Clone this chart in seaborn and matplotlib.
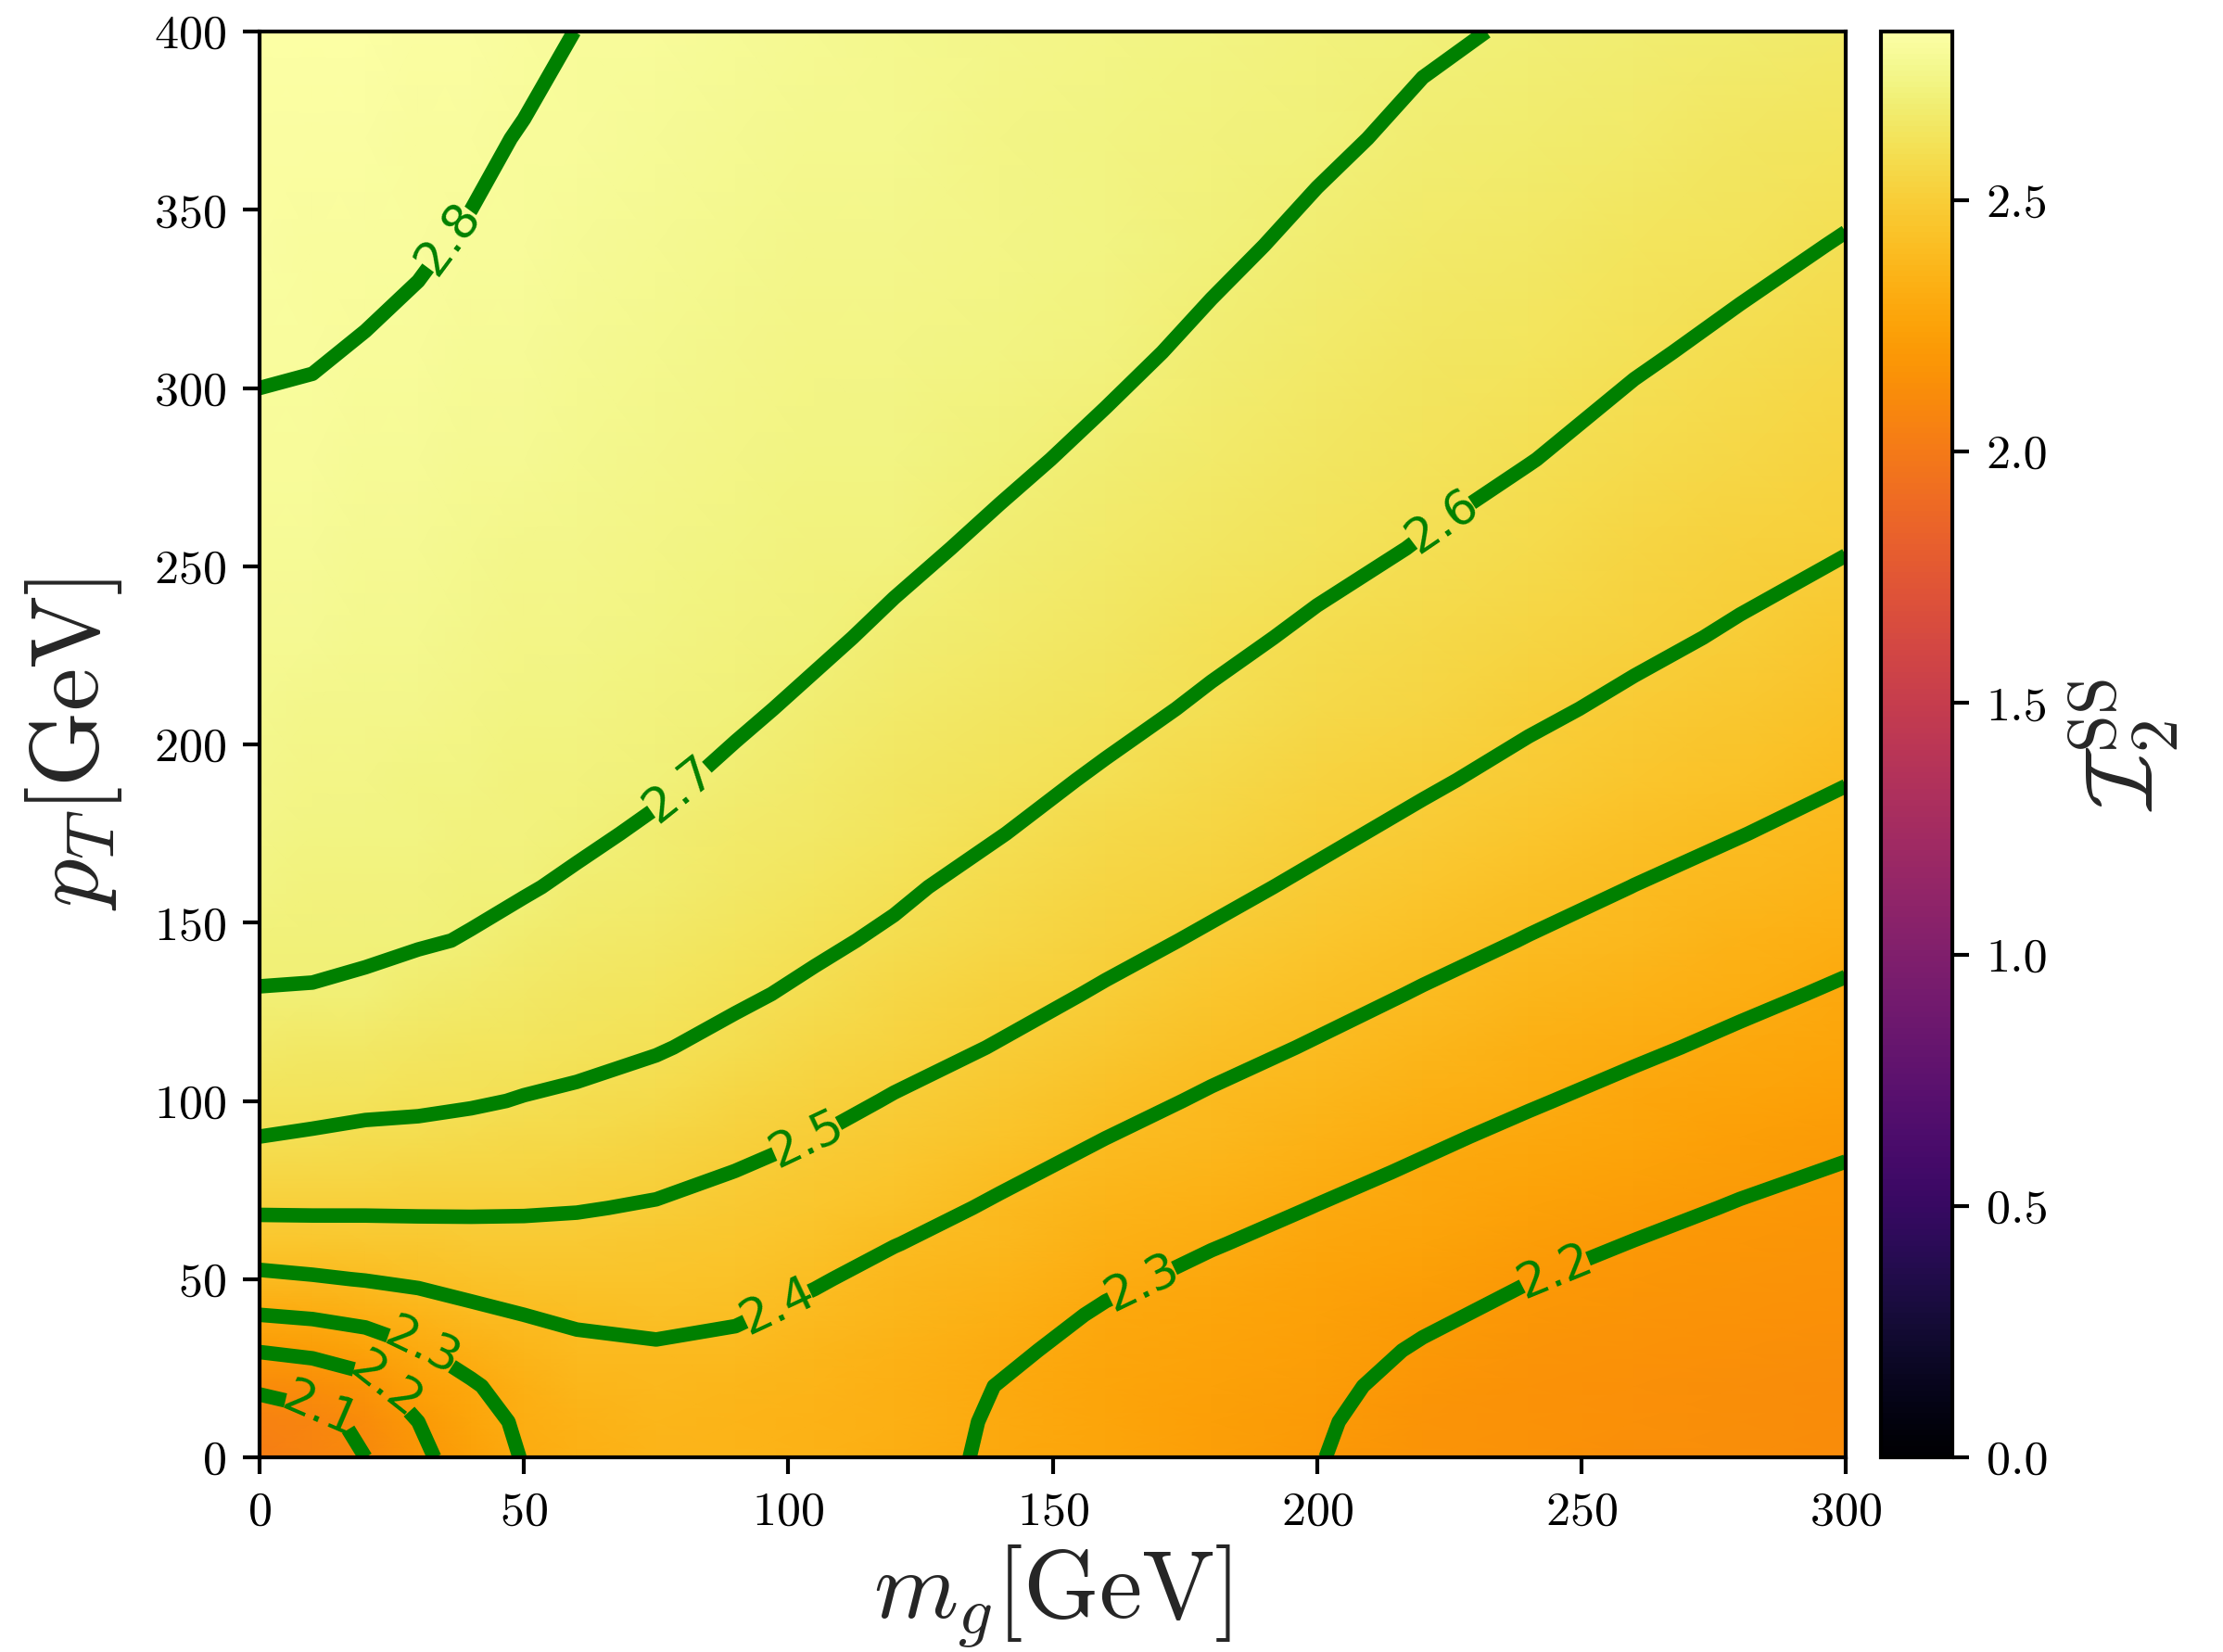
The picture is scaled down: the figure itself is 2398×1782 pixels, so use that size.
import numpy as np
import matplotlib
matplotlib.use("Agg")
import matplotlib.pyplot as plt
import seaborn as sns

# ---------------- data ----------------
MG = [0, 10, 20, 30, 40, 50, 60, 75, 90, 105, 120, 140, 160, 180, 200, 220, 240, 260, 280, 300]
PT = [0, 10, 20, 30, 40, 50, 60, 70, 80, 90, 100, 115, 130, 145, 160, 175, 190, 210, 230, 255,
      280, 310, 340, 370, 400]

# one list per m_g column, values at the PT rows above
I2_MG000 = [2.030, 2.051, 2.115, 2.204, 2.300, 2.382, 2.451, 2.512, 2.556, 2.600, 2.624, 2.661, 2.698,
            2.712, 2.725, 2.736, 2.747, 2.760, 2.771, 2.784, 2.794, 2.803, 2.813, 2.822, 2.832]
I2_MG010 = [2.060, 2.076, 2.133, 2.219, 2.311, 2.392, 2.456, 2.512, 2.553, 2.594, 2.621, 2.657, 2.697,
            2.711, 2.723, 2.734, 2.745, 2.757, 2.769, 2.782, 2.792, 2.802, 2.811, 2.820, 2.830]
I2_MG020 = [2.100, 2.117, 2.169, 2.249, 2.328, 2.403, 2.460, 2.511, 2.549, 2.587, 2.615, 2.650, 2.693,
            2.707, 2.719, 2.730, 2.740, 2.753, 2.765, 2.777, 2.788, 2.798, 2.808, 2.817, 2.826]
I2_MG030 = [2.180, 2.200, 2.247, 2.293, 2.355, 2.415, 2.465, 2.511, 2.547, 2.584, 2.612, 2.643, 2.675,
            2.705, 2.714, 2.725, 2.735, 2.748, 2.759, 2.772, 2.783, 2.794, 2.803, 2.8125, 2.822]
I2_MG040 = [2.246, 2.264, 2.291, 2.334, 2.383, 2.428, 2.470, 2.510, 2.543, 2.577, 2.606, 2.635, 2.664,
            2.697, 2.711, 2.721, 2.730, 2.741, 2.752, 2.765, 2.776, 2.788, 2.797, 2.806, 2.816]
I2_MG050 = [2.305, 2.315, 2.336, 2.365, 2.400, 2.437, 2.473, 2.508, 2.538, 2.567, 2.597, 2.625, 2.652,
            2.679, 2.705, 2.714, 2.7225, 2.734, 2.745, 2.757, 2.769, 2.781, 2.791, 2.798, 2.809]
I2_MG060 = [2.335, 2.342, 2.359, 2.383, 2.412, 2.443, 2.474, 2.504, 2.533, 2.561, 2.590, 2.618, 2.642,
            2.666, 2.690, 2.712, 2.719, 2.728, 2.737, 2.750, 2.761, 2.773, 2.784, 2.793, 2.7995]
I2_MG075 = [2.355, 2.359, 2.371, 2.392, 2.418, 2.443, 2.468, 2.494, 2.519, 2.545, 2.571, 2.605, 2.626,
            2.648, 2.669, 2.690, 2.711, 2.720, 2.728, 2.741, 2.752, 2.765, 2.775, 2.784, 2.791]
I2_MG090 = [2.355, 2.358, 2.368, 2.385, 2.407, 2.430, 2.453, 2.476, 2.499, 2.523, 2.546, 2.582, 2.610,
            2.629, 2.648, 2.667, 2.687, 2.711, 2.721, 2.731, 2.743, 2.755, 2.766, 2.775, 2.782]
I2_MG105 = [2.345, 2.347, 2.355, 2.367, 2.384, 2.406, 2.429, 2.453, 2.476, 2.500, 2.522, 2.555, 2.588,
            2.611, 2.629, 2.647, 2.664, 2.688, 2.711, 2.723, 2.733, 2.746, 2.757, 2.766, 2.773]
I2_MG120 = [2.325, 2.327, 2.334, 2.344, 2.359, 2.379, 2.402, 2.426, 2.449, 2.472, 2.495, 2.527, 2.558,
            2.590, 2.611, 2.628, 2.644, 2.666, 2.688, 2.715, 2.727, 2.737, 2.748, 2.758, 2.765]
I2_MG140 = [2.290, 2.293, 2.298, 2.313, 2.332, 2.352, 2.372, 2.391, 2.413, 2.437, 2.461, 2.496, 2.524,
            2.550, 2.577, 2.602, 2.618, 2.639, 2.661, 2.687, 2.713, 2.726, 2.736, 2.746, 2.753]
I2_MG160 = [2.260, 2.261, 2.267, 2.277, 2.292, 2.313, 2.335, 2.357, 2.379, 2.401, 2.424, 2.459, 2.493,
            2.520, 2.544, 2.568, 2.593, 2.616, 2.636, 2.661, 2.686, 2.715, 2.727, 2.735, 2.741]
I2_MG180 = [2.232, 2.234, 2.240, 2.250, 2.264, 2.283, 2.304, 2.326, 2.348, 2.370, 2.391, 2.424, 2.458,
            2.491, 2.517, 2.539, 2.562, 2.592, 2.613, 2.636, 2.659, 2.687, 2.713, 2.7225, 2.729]
I2_MG200 = [2.203, 2.208, 2.217, 2.229, 2.243, 2.259, 2.278, 2.298, 2.319, 2.340, 2.362, 2.394, 2.425,
            2.456, 2.488, 2.513, 2.534, 2.562, 2.591, 2.616, 2.637, 2.662, 2.687, 2.711, 2.718]
I2_MG220 = [2.166, 2.169, 2.178, 2.193, 2.212, 2.232, 2.252, 2.272, 2.292, 2.312, 2.333, 2.364, 2.395,
            2.425, 2.454, 2.484, 2.509, 2.536, 2.564, 2.597, 2.618, 2.641, 2.664, 2.688, 2.709]
I2_MG240 = [2.149, 2.151, 2.158, 2.168, 2.183, 2.202, 2.223, 2.244, 2.265, 2.285, 2.306, 2.336, 2.367,
            2.397, 2.425, 2.453, 2.481, 2.512, 2.538, 2.570, 2.602, 2.625, 2.648, 2.671, 2.694]
I2_MG260 = [2.137, 2.139, 2.144, 2.152, 2.164, 2.179, 2.198, 2.219, 2.239, 2.260, 2.280, 2.311, 2.340,
            2.370, 2.399, 2.425, 2.452, 2.487, 2.515, 2.545, 2.576, 2.608, 2.633, 2.658, 2.683]
I2_MG280 = [2.128, 2.129, 2.134, 2.140, 2.150, 2.162, 2.177, 2.195, 2.215, 2.235, 2.256, 2.286, 2.315,
            2.344, 2.373, 2.402, 2.426, 2.459, 2.492, 2.523, 2.552, 2.586, 2.617, 2.644, 2.672]
I2_MG300 = [2.120, 2.121, 2.125, 2.130, 2.139, 2.149, 2.162, 2.177, 2.194, 2.214, 2.233, 2.262, 2.291,
            2.319, 2.348, 2.376, 2.403, 2.434, 2.465, 2.503, 2.530, 2.563, 2.596, 2.628, 2.660]

LEVELS = [2.1, 2.2, 2.3, 2.4, 2.5, 2.6, 2.7, 2.8]
CBAR_TICKS = [0.0, 0.5, 1.0, 1.5, 2.0, 2.5]
X_TICKS = [0, 50, 100, 150, 200, 250, 300]
Y_TICKS = [0, 50, 100, 150, 200, 250, 300, 350, 400]

# ---------------- style ----------------
sns.set_style("ticks")
plt.rcParams.update({
    "font.family": "serif",
    "font.serif": ["cmr10"],
    "mathtext.fontset": "cm",
    "axes.formatter.use_mathtext": True,
    "font.size": 10,
    "axes.linewidth": 0.8,
    "xtick.direction": "out",
    "ytick.direction": "out",
    "xtick.major.size": 3.5,
    "ytick.major.size": 3.5,
    "xtick.color": "black",
    "ytick.color": "black",
    "axes.edgecolor": "black",
})

cols = [I2_MG000, I2_MG010, I2_MG020, I2_MG030, I2_MG040, I2_MG050, I2_MG060,
        I2_MG075, I2_MG090, I2_MG105, I2_MG120, I2_MG140, I2_MG160, I2_MG180,
        I2_MG200, I2_MG220, I2_MG240, I2_MG260, I2_MG280, I2_MG300]
Z = np.column_stack(cols)  # rows = PT, columns = MG

cmap = sns.color_palette("inferno", as_cmap=True)

fig = plt.figure(figsize=(2398 / 375, 1782 / 375), dpi=375)
ax = fig.add_axes([0.1168, 0.1178, 0.7135, 0.8631])
cax = fig.add_axes([0.8462, 0.1178, 0.0321, 0.8631])

mesh = ax.pcolormesh(MG, PT, Z, shading="gouraud", cmap=cmap, vmin=0.0, vmax=2.835)
cs = ax.contour(MG, PT, Z, levels=LEVELS, colors="green", linewidths=3.0)
spots = [(35.6, 342), (78.5, 189), (224, 261.6), (103.6, 88.8), (98.2, 41.6),
         (166.7, 49.4), (245, 52), (30.7, 30.9), (23.3, 19.2), (11.7, 14.4)]
labels = ax.clabel(cs, fmt="%1.1f", fontsize=10, inline=True, manual=spots)
for t in labels:
    t.set_fontfamily("DejaVu Sans")

ax.set_xlim(0, 300)
ax.set_ylim(0, 400)
ax.set_xticks(X_TICKS)
ax.set_yticks(Y_TICKS)
ax.set_xlabel(r"$m_g[{\rm GeV}]$", fontsize=20, labelpad=2)
ax.set_ylabel(r"$p_T[{\rm GeV}]$", fontsize=20, labelpad=6)

cb = fig.colorbar(mesh, cax=cax, ticks=CBAR_TICKS)
cb.ax.set_yticklabels([f"{v:.1f}" for v in CBAR_TICKS])
cb.set_label(r"$\mathcal{I}_2^{\rm SS}$", fontsize=20)
cb.outline.set_linewidth(0.8)

fig.savefig("out.png", dpi=375)
